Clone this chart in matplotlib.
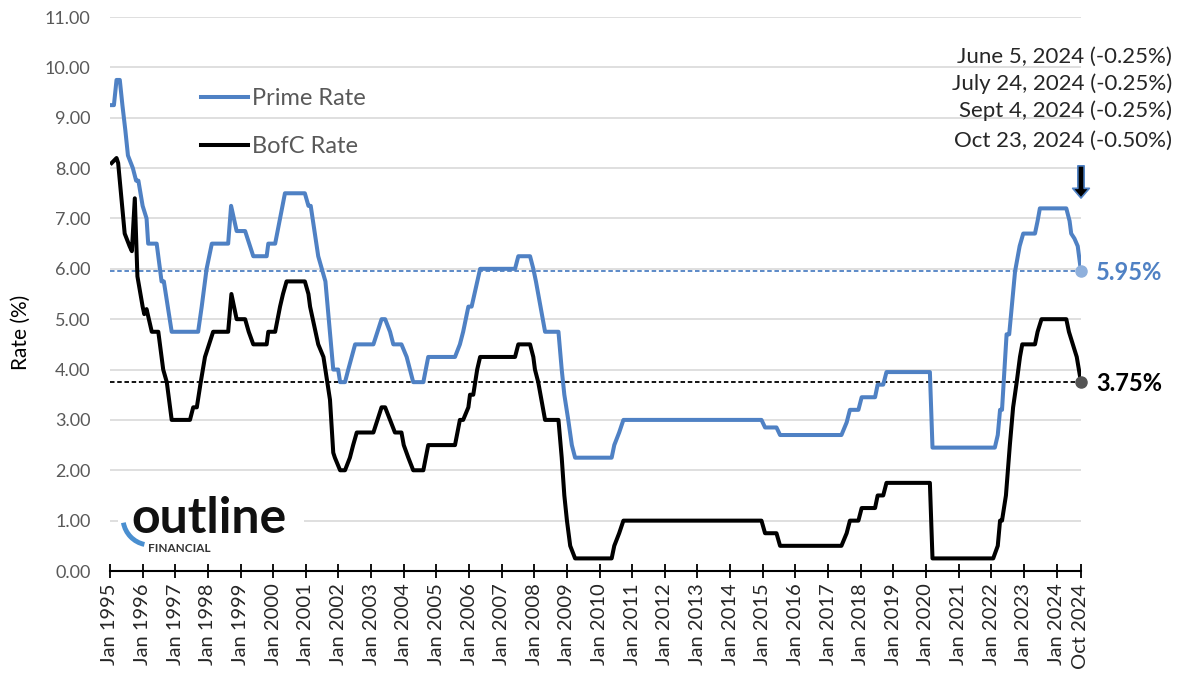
import matplotlib
matplotlib.use("Agg")
import matplotlib.pyplot as plt
from matplotlib.patches import Arc, Rectangle

plt.rcParams['font.family'] = ['Lato', 'DejaVu Sans']

# Prime rate (decimal year, %)
prime_x = [1995.05, 1995.12, 1995.2, 1995.3, 1995.38, 1995.47, 1995.55, 1995.7, 1995.8,
           1995.87, 1996.0, 1996.12, 1996.17, 1996.43, 1996.58, 1996.65, 1996.89, 1997.7,
           1997.81, 1997.96, 1998.12, 1998.62, 1998.71, 1998.88, 1999.14, 1999.39, 1999.8,
           1999.85, 2000.06, 2000.21, 2000.36, 2000.97, 2001.08, 2001.15, 2001.38, 2001.49,
           2001.6, 2001.84, 2001.99, 2002.05, 2002.2, 2002.3, 2002.51, 2003.07, 2003.32,
           2003.43, 2003.58, 2003.68, 2003.93, 2004.09, 2004.19, 2004.29, 2004.6, 2004.75,
           2005.57, 2005.72, 2005.82, 2005.98, 2006.08, 2006.34, 2007.41, 2007.51, 2007.87,
           2007.97, 2008.05, 2008.33, 2008.74, 2008.84, 2008.92, 2009.04, 2009.15, 2009.25,
           2010.37, 2010.45, 2010.6, 2010.73, 2014.96, 2015.07, 2015.42, 2015.53, 2017.41,
           2017.57, 2017.67, 2017.93, 2018.03, 2018.44, 2018.52, 2018.69, 2018.79, 2020.12,
           2020.2, 2022.11, 2022.2, 2022.27, 2022.33, 2022.47, 2022.55, 2022.73, 2022.87,
           2022.98, 2023.34, 2023.42, 2023.49, 2024.3, 2024.4, 2024.45, 2024.55, 2024.65,
           2024.75]
prime_y = [9.25, 9.25, 9.75, 9.75, 9.25, 8.75, 8.25, 8.0, 7.75,
           7.75, 7.25, 7.0, 6.5, 6.5, 5.75, 5.75, 4.75, 4.75,
           5.25, 6.0, 6.5, 6.5, 7.25, 6.75, 6.75, 6.25, 6.25,
           6.5, 6.5, 7.0, 7.5, 7.5, 7.25, 7.25, 6.25, 6.0,
           5.75, 4.0, 4.0, 3.75, 3.75, 4.0, 4.5, 4.5, 5.0,
           5.0, 4.75, 4.5, 4.5, 4.25, 4.0, 3.75, 3.75, 4.25,
           4.25, 4.5, 4.75, 5.25, 5.25, 6.0, 6.0, 6.25, 6.25,
           6.0, 5.75, 4.75, 4.75, 4.0, 3.5, 3.0, 2.5, 2.25,
           2.25, 2.5, 2.75, 3.0, 3.0, 2.85, 2.85, 2.7, 2.7,
           2.95, 3.2, 3.2, 3.45, 3.45, 3.7, 3.7, 3.95, 3.95,
           2.45, 2.45, 2.7, 3.2, 3.2, 4.7, 4.7, 5.95, 6.45,
           6.7, 6.7, 6.95, 7.2, 7.2, 6.95, 6.7, 6.6, 6.45,
           5.95]

# Bank of Canada rate
bofc_x = [1995.05, 1995.2, 1995.25, 1995.45, 1995.6, 1995.67, 1995.76, 1995.84, 1996.0,
          1996.05, 1996.12, 1996.28, 1996.48, 1996.63, 1996.74, 1996.89, 1997.45, 1997.55,
          1997.66, 1997.78, 1997.91, 1998.16, 1998.62, 1998.72, 1998.88, 1999.14, 1999.25,
          1999.39, 1999.8, 1999.85, 2000.06, 2000.21, 2000.3, 2000.41, 2000.97, 2001.08,
          2001.13, 2001.38, 2001.54, 2001.74, 2001.84, 2001.89, 2002.05, 2002.2, 2002.35,
          2002.45, 2002.56, 2003.07, 2003.32, 2003.43, 2003.58, 2003.73, 2003.93, 2004.0,
          2004.14, 2004.29, 2004.6, 2004.75, 2005.57, 2005.72, 2005.82, 2005.98, 2006.03,
          2006.13, 2006.25, 2006.34, 2007.41, 2007.51, 2007.87, 2007.97, 2008.02, 2008.12,
          2008.33, 2008.74, 2008.84, 2008.92, 2009.0, 2009.1, 2009.25, 2010.37, 2010.45,
          2010.6, 2010.73, 2014.96, 2015.07, 2015.42, 2015.53, 2017.41, 2017.57, 2017.67,
          2017.93, 2018.03, 2018.44, 2018.52, 2018.69, 2018.79, 2020.12, 2020.2, 2022.06,
          2022.2, 2022.27, 2022.33, 2022.45, 2022.57, 2022.67, 2022.78, 2022.88, 2022.95,
          2023.34, 2023.42, 2023.54, 2024.3, 2024.38, 2024.5, 2024.62, 2024.75]
bofc_y = [8.1, 8.2, 8.1, 6.7, 6.45, 6.35, 7.4, 5.85, 5.25,
          5.1, 5.2, 4.75, 4.75, 4.0, 3.75, 3.0, 3.0, 3.25,
          3.25, 3.75, 4.25, 4.75, 4.75, 5.5, 5.0, 5.0, 4.75,
          4.5, 4.5, 4.75, 4.75, 5.25, 5.5, 5.75, 5.75, 5.5,
          5.25, 4.5, 4.25, 3.4, 2.35, 2.25, 2.0, 2.0, 2.25,
          2.5, 2.75, 2.75, 3.25, 3.25, 3.0, 2.75, 2.75, 2.5,
          2.25, 2.0, 2.0, 2.5, 2.5, 3.0, 3.0, 3.25, 3.5,
          3.5, 4.0, 4.25, 4.25, 4.5, 4.5, 4.25, 4.0, 3.75,
          3.0, 3.0, 2.25, 1.5, 1.0, 0.5, 0.25, 0.25, 0.5,
          0.75, 1.0, 1.0, 0.75, 0.75, 0.5, 0.5, 0.75, 1.0,
          1.0, 1.25, 1.25, 1.5, 1.5, 1.75, 1.75, 0.25, 0.25,
          0.5, 1.0, 1.0, 1.5, 2.5, 3.25, 3.75, 4.25, 4.5,
          4.5, 4.75, 5.0, 5.0, 4.75, 4.5, 4.25, 3.75]

tick_pos = list(range(1995, 2025)) + [2024.75]
tick_labels = ['Jan ' + str(y) for y in range(1995, 2025)] + ['Oct 2024']
y_ticks = [i for i in range(0, 12)]

cut_notes = ['June 5, 2024 (-0.25%)', 'July 24, 2024 (-0.25%)',
             'Sept 4, 2024 (-0.25%)', 'Oct 23, 2024 (-0.50%)']
prime_now = 5.95
bofc_now = 3.75

blue = '#4f81c4'
grey_txt = '#595959'

fig = plt.figure(figsize=(11.8, 6.79), dpi=100)
ax = fig.add_axes([110 / 1180, 108 / 679, 971 / 1180, 554 / 679])

ax.plot(prime_x, prime_y, color=blue, lw=2.9, label='Prime Rate', solid_joinstyle='round', zorder=3)
ax.plot(bofc_x, bofc_y, color='black', lw=2.9, label='BofC Rate', solid_joinstyle='round', zorder=3)

# current-level guides
ax.axhline(prime_now, color=blue, lw=1.3, ls=(0, (2.5, 1.5)), zorder=2)
ax.axhline(bofc_now, color='black', lw=1.3, ls=(0, (2.5, 1.5)), zorder=2)
ax.plot([prime_x[-1]], [prime_now], 'o', ms=8, color='#8fb0dc', zorder=4, clip_on=False)
ax.plot([bofc_x[-1]], [bofc_now], 'o', ms=8, color='#555555', zorder=4, clip_on=False)
ax.annotate('{:.2f}%'.format(prime_now), xy=(prime_x[-1], prime_now), xytext=(11, -1),
            textcoords='offset points', ha='left', va='center', fontsize=17,
            fontweight='bold', color=blue, annotation_clip=False)
ax.annotate('{:.2f}%'.format(bofc_now), xy=(bofc_x[-1], bofc_now), xytext=(11, -1),
            textcoords='offset points', ha='left', va='center', fontsize=17,
            fontweight='bold', color='black', annotation_clip=False)

# arrow under the cut notes
ax.annotate('', xy=(2024.75, 7.35), xytext=(2024.75, 8.1),
            arrowprops=dict(arrowstyle='simple,head_width=1.2,head_length=0.7,tail_width=0.45',
                            fc='black', ec=blue, lw=1.2), annotation_clip=False)

ax.set_xlim(1995, 2024.75)
ax.set_ylim(0, 11)
ax.set_yticks(y_ticks)
ax.set_yticklabels(['{:.2f}'.format(v) for v in y_ticks], color=grey_txt, fontsize=13)
ax.set_xticks(tick_pos)
ax.set_xticklabels(tick_labels, rotation=90, fontsize=14.5, color='#262626')
ax.tick_params(axis='y', length=0, pad=14)
ax.tick_params(axis='x', direction='inout', length=10, width=1.3, pad=4)
ax.grid(axis='y', color='#d9d9d9', lw=1.2, zorder=0)
ax.set_axisbelow(True)
for s in ['top', 'right', 'left']:
    ax.spines[s].set_visible(False)
ax.spines['bottom'].set_linewidth(1.5)
ax.spines['bottom'].set_zorder(5)
ax.set_ylabel('Rate (%)', fontsize=15, color='black')
ax.yaxis.set_label_coords(-0.082, 0.43)

leg = ax.legend(loc='upper left', bbox_to_anchor=(0.094, 0.872), frameon=False,
                fontsize=17, handlelength=2.0, handletextpad=0.15, labelspacing=1.15,
                borderpad=0, borderaxespad=0)
for t in leg.get_texts():
    t.set_color(grey_txt)

# notes about the 2024 cuts
for i, note in enumerate(cut_notes):
    ypix = [57, 84, 111, 141][i]
    fig.text(1172 / 1180, 1 - ypix / 679, note, ha='right', va='center',
             fontsize=16, color='#262626')

# logo
fig.add_artist(Rectangle((118 / 1180, 1 - 557 / 679), 186 / 1180, 59 / 679,
                         transform=fig.transFigure, fc='white', ec='none', zorder=2))
fig.text(131 / 1180, 1 - 533 / 679, 'outline', fontsize=36, fontweight='bold',
         color='#111111', ha='left', va='baseline', zorder=3)
fig.text(148 / 1180, 1 - 543 / 679, 'FINANCIAL', fontsize=8.5, fontweight='bold',
         color='#333333', ha='left', va='top', zorder=3)
fig.add_artist(Arc((1.50, 1.61), 0.54, 0.54, theta1=190, theta2=258,
                   transform=fig.dpi_scale_trans, color='#4a8fd0', lw=3.5, zorder=3))

fig.savefig('out.png', dpi=100)
